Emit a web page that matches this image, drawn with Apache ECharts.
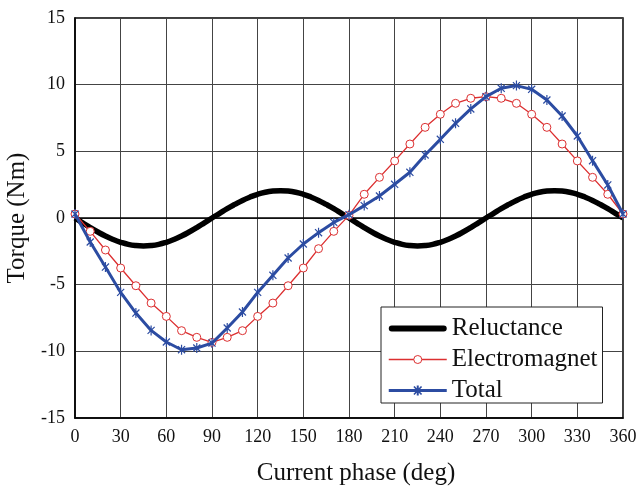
<!DOCTYPE html>
<html>
<head>
<meta charset="utf-8">
<script src="https://cdn.jsdelivr.net/npm/echarts@6/dist/echarts.min.js"></script>
<style>html,body{margin:0;padding:0;background:#fff;}#c{width:638px;height:486px;}</style>
</head>
<body>
<div id="c"></div>
<script>
// Data
var phaseFine = [];      // 0..360 step 5 (reluctance)
for (var i = 0; i <= 360; i += 5) phaseFine.push(i);
var phase = [];          // 0..360 step 10 (markers)
for (var j = 0; j <= 360; j += 10) phase.push(j);

var reluctance = [
  0, -0.36, -0.72, -1.05, -1.35, -1.61, -1.82, -1.98, -2.07, -2.1, -2.07, -1.98, -1.82, -1.61, -1.35, -1.05, -0.72, -0.36, 0,
  0.35, 0.7, 1.02, 1.32, 1.57, 1.78, 1.93, 2.02, 2.05, 2.02, 1.93, 1.78, 1.57, 1.32, 1.02, 0.7, 0.35, 0,
  -0.36, -0.72, -1.05, -1.35, -1.61, -1.82, -1.98, -2.07, -2.1, -2.07, -1.98, -1.82, -1.61, -1.35, -1.05, -0.72, -0.36, 0,
  0.35, 0.7, 1.02, 1.32, 1.57, 1.78, 1.93, 2.02, 2.05, 2.02, 1.93, 1.78, 1.57, 1.32, 1.02, 0.7, 0.35, 0
];
var electromagnet = [
  0.3, -1.0, -2.4, -3.75, -5.08, -6.38, -7.38, -8.45, -8.95, -9.33,
  -8.95, -8.45, -7.38, -6.38, -5.08, -3.75, -2.3, -1.0, 0.2,
  1.78, 3.05, 4.28, 5.55, 6.8, 7.78, 8.6, 8.98, 9.1,
  8.98, 8.6, 7.78, 6.8, 5.55, 4.28, 3.05, 1.78, 0.3
];
var total = [
  0.3, -1.8, -3.68, -5.58, -7.13, -8.43, -9.3, -9.88, -9.75, -9.38,
  -8.25, -7.05, -5.58, -4.3, -3.0, -1.95, -1.1, -0.33, 0.25,
  0.93, 1.65, 2.53, 3.43, 4.73, 5.9, 7.1, 8.18, 9.1,
  9.73, 9.93, 9.65, 8.85, 7.65, 6.15, 4.3, 2.48, 0.3
];
var xTicks = [0, 30, 60, 90, 120, 150, 180, 210, 240, 270, 300, 330, 360];
var yTicks = [-15, -10, -5, 0, 5, 10, 15];
var seriesNames = ['Reluctance', 'Electromagnet', 'Total'];

function pairs(xs, ys) { return xs.map(function (x, k) { return [x, ys[k]]; }); }

var starPath = 'path://M-1.2 -10 L1.2 -10 L1.2 10 L-1.2 10 Z ' +
  'M-7.92 -6.22 L-6.22 -7.92 L7.92 6.22 L6.22 7.92 Z ' +
  'M-6.22 7.92 L-7.92 6.22 L6.22 -7.92 L7.92 -6.22 Z';
// thick rounded bar inside a 58x10 box (tiny corner specks define the box)
var thickLineIcon = 'path://M0 0 L0.01 0 L0 0.01 Z M58 10 L57.99 10 L58 9.99 Z ' +
  'M3 2 L55 2 A3 3 0 0 1 55 8 L3 8 A3 3 0 0 1 3 2 Z';
// blue line + star inside a 58x10 box
var totalIcon = 'path://M0 0 L0.01 0 L0 0.01 Z M58 10 L57.99 10 L58 9.99 Z ' +
  'M0 3.5 L58 3.5 L58 6.5 L0 6.5 Z ' +
  'M28 0 L30 0 L30 10 L28 10 Z ' +
  'M24.6 1.6 L25.8 0.4 L33.4 8.4 L32.2 9.6 Z ' +
  'M25.8 9.6 L24.6 8.4 L32.2 0.4 L33.4 1.6 Z';

var FONT = '"Liberation Serif", "Times New Roman", serif';
var RED = '#dc2f30';
var BLUE = '#2c4ca2';

var chart = echarts.init(document.getElementById('c'), null, { renderer: 'canvas' });
chart.setOption({
  animation: false,
  backgroundColor: '#ffffff',
  grid: { left: 75, right: 15, top: 18, bottom: 68, show: true, borderColor: '#000', borderWidth: 1.5,
    backgroundColor: 'transparent', containLabel: false, outerBoundsMode: 'none' },
  xAxis: {
    type: 'value', min: 0, max: 360, interval: 30,
    name: 'Current phase (deg)', nameLocation: 'middle', nameGap: 43,
    nameTextStyle: { fontFamily: FONT, fontSize: 25, color: '#111', padding: [0, 0, 0, 14] },
    axisLine: { onZero: false, lineStyle: { color: '#000', width: 1.5 } },
    axisTick: { show: false },
    axisLabel: { fontFamily: FONT, fontSize: 18, color: '#111', margin: 10,
      formatter: function (v) { return xTicks.indexOf(v) >= 0 ? String(v) : ''; } },
    splitLine: { show: true, lineStyle: { color: '#444', width: 1 } }
  },
  yAxis: {
    type: 'value', min: -15, max: 15, interval: 5,
    name: 'Torque (Nm)', nameLocation: 'middle', nameGap: 44, nameRotate: 90,
    nameTextStyle: { fontFamily: FONT, fontSize: 25, color: '#111' },
    axisLine: { show: true, lineStyle: { color: '#000', width: 1.5 } },
    axisTick: { show: false },
    axisLabel: { fontFamily: FONT, fontSize: 18, color: '#111', margin: 10,
      formatter: function (v) { return yTicks.indexOf(v) >= 0 ? String(v) : ''; } },
    splitLine: { show: true, lineStyle: { color: '#444', width: 1 } }
  },
  legend: {
    orient: 'vertical', left: 381, top: 307,
    backgroundColor: '#fff', borderColor: '#222', borderWidth: 1,
    padding: [9, 5, 0, 7], itemGap: 6, itemWidth: 58, itemHeight: 10,
    textStyle: { fontFamily: FONT, fontSize: 25, color: '#111' },
    data: [
      { name: seriesNames[0], icon: thickLineIcon, itemStyle: { color: '#000' } },
      { name: seriesNames[1], lineStyle: { width: 1.5, color: RED }, itemStyle: { color: '#fff', borderColor: RED, borderWidth: 1 } },
      { name: seriesNames[2], icon: totalIcon, itemStyle: { color: BLUE } }
    ]
  },
  series: [
    {
      name: seriesNames[0], type: 'line', data: pairs(phaseFine, reluctance), smooth: true,
      symbol: 'none', lineStyle: { color: '#000', width: 5.5 }, itemStyle: { color: '#000' }, z: 3,
      markLine: { silent: true, symbol: 'none', label: { show: false },
        lineStyle: { color: '#000', width: 1.5, type: 'solid' }, data: [{ yAxis: 0 }], z: 1 }
    },
    {
      name: seriesNames[1], type: 'line', data: pairs(phase, electromagnet),
      symbol: 'circle', symbolSize: 8,
      lineStyle: { color: RED, width: 1.3 },
      itemStyle: { color: '#fff', borderColor: RED, borderWidth: 1 }, z: 4
    },
    {
      name: seriesNames[2], type: 'line', data: pairs(phase, total),
      symbol: starPath, symbolSize: 10, symbolKeepAspect: true,
      lineStyle: { color: BLUE, width: 3 },
      itemStyle: { color: BLUE }, z: 5
    }
  ]
});
</script>
</body>
</html>
